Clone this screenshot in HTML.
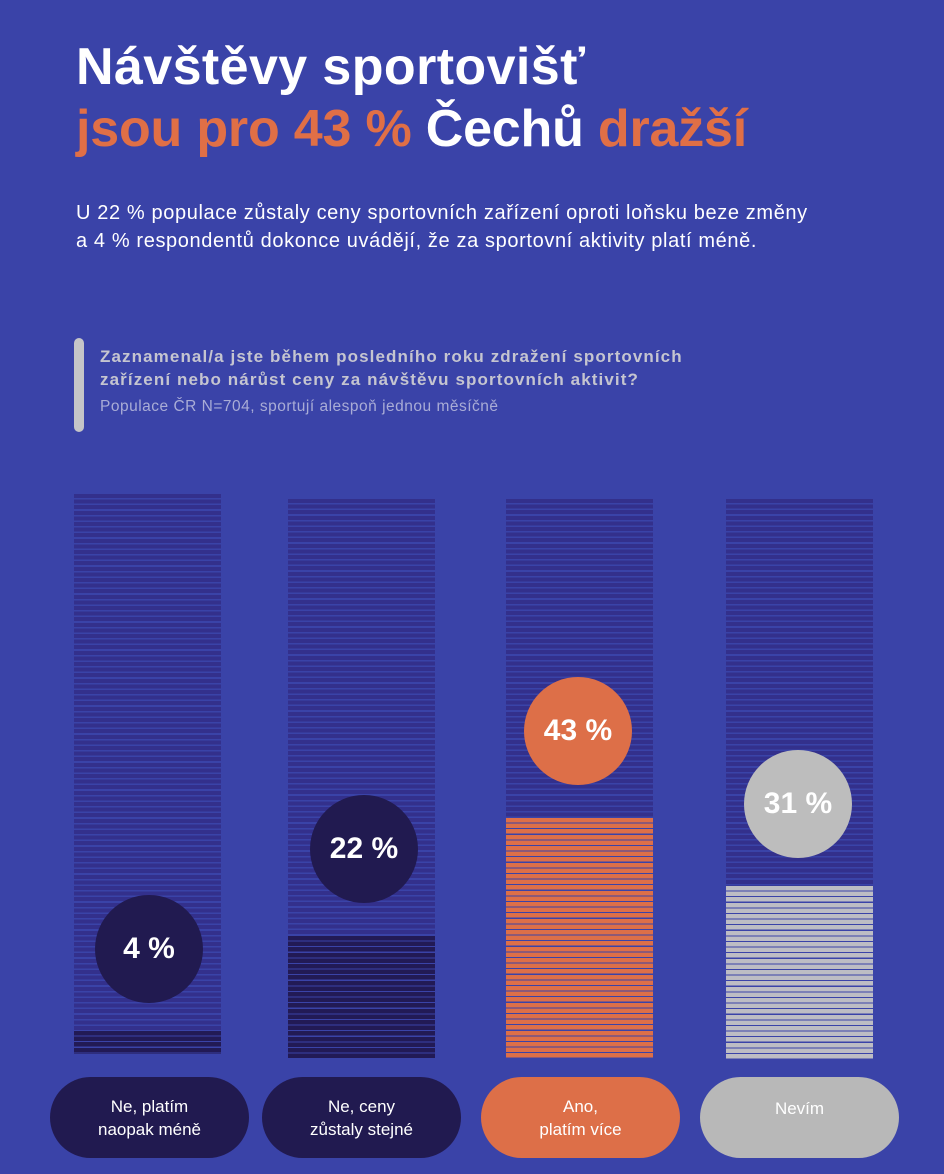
<!DOCTYPE html>
<html><head><meta charset="utf-8"><style>
body{margin:0;width:944px;height:1174px;background:#3a43a8;font-family:"Liberation Sans",sans-serif;position:relative;overflow:hidden;color:#fff}
.t{position:absolute;left:76px;font-weight:bold;font-size:52px;letter-spacing:0.4px;white-space:nowrap}
.o{color:#e06f46}
.sub{position:absolute;left:76px;top:199px;font-size:20px;letter-spacing:0.62px;line-height:28px;color:#fff;white-space:nowrap}
.qb{position:absolute;left:74px;top:338px;width:10px;height:94px;border-radius:5px;background:#c5c5c8}
.q{position:absolute;left:100px;top:345px;font-size:17px;letter-spacing:1.1px;font-weight:bold;line-height:23px;color:#c5c5d0;white-space:nowrap}
.qs{position:absolute;left:100px;top:398px;font-size:15.5px;letter-spacing:0.5px;color:#a9acd6;white-space:nowrap}
.bar{position:absolute;width:147px;background:repeating-linear-gradient(to bottom,#33308c 0 4px,transparent 4px 5.6px)}
.fill{position:absolute;left:0;right:0;bottom:0}
.c{position:absolute;width:108px;height:108px;border-radius:50%;display:flex;align-items:center;justify-content:center;font-weight:bold;font-size:30px;color:#fff}
.b{position:absolute;top:1077px;width:199px;height:81px;border-radius:41px;display:flex;align-items:center;justify-content:center;text-align:center;font-size:17px;line-height:23px;color:#fff}
</style></head><body>
<div class="t" style="top:37px">Návštěvy sportovišť</div>
<div class="t" style="top:99px;letter-spacing:-0.2px"><span class="o">jsou pro 43 %</span> Čechů <span class="o">dražší</span></div>
<div class="sub">U 22 % populace zůstaly ceny sportovních zařízení oproti loňsku beze změny<br>a 4 % respondentů dokonce uvádějí, že za sportovní aktivity platí méně.</div>
<div class="qb"></div>
<div class="q">Zaznamenal/a jste během posledního roku zdražení sportovních<br>zařízení nebo nárůst ceny za návštěvu sportovních aktivit?</div>
<div class="qs">Populace ČR N=704, sportují alespoň jednou měsíčně</div>

<div class="bar" style="left:74px;top:494px;height:560px"><div class="fill" style="height:23px;background:repeating-linear-gradient(to bottom,#221a55 0 4.5px,#3a43a8 4.5px 5.6px)"></div></div>
<div class="bar" style="left:288px;top:499px;height:560px"><div class="fill" style="height:123px;background:repeating-linear-gradient(to bottom,#221a55 0 4.5px,#3a43a8 4.5px 5.6px)"></div></div>
<div class="bar" style="left:506px;top:499px;height:560px"><div class="fill" style="height:241px;background:repeating-linear-gradient(to bottom,#dd6f48 0 4.5px,#3a43a8 4.5px 5.6px)"></div></div>
<div class="bar" style="left:726px;top:499px;height:560px"><div class="fill" style="height:173px;background:repeating-linear-gradient(to bottom,#bdbdc4 0 4.5px,#3a43a8 4.5px 5.6px)"></div></div>

<div class="c" style="left:95px;top:895px;background:#211a50">4 %</div>
<div class="c" style="left:310px;top:795px;background:#211a50">22 %</div>
<div class="c" style="left:524px;top:677px;background:#dd6f48">43 %</div>
<div class="c" style="left:744px;top:750px;background:#bdbdbd">31 %</div>

<div class="b" style="left:50px;background:#211a50">Ne, platím<br>naopak méně</div>
<div class="b" style="left:262px;background:#211a50">Ne, ceny<br>zůstaly stejné</div>
<div class="b" style="left:481px;background:#dd6f48">Ano,<br>platím více</div>
<div class="b" style="left:700px;background:#b8b8b8;align-items:flex-start"><span style="margin-top:20px">Nevím</span></div>
</body></html>
